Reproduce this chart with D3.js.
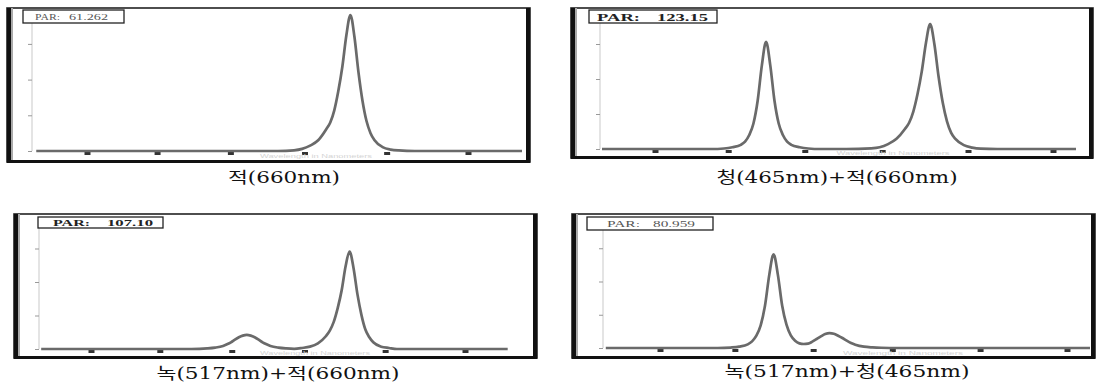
<!DOCTYPE html>
<html>
<head>
<meta charset="utf-8">
<script src="https://cdn.jsdelivr.net/npm/d3@7"></script>
<style>
  html, body { margin: 0; padding: 0; background: #fff; }
  svg { display: block; }
  .cap-latin { font-family: "DejaVu Serif", "Liberation Serif", serif; }
  .cap-hangul { font-family: "Noto Sans CJK KR", sans-serif; }
</style>
</head>
<body>
<svg id="svg"></svg>
<script>
// spectra: wavelength (nm) and relative irradiance
const wlRed = [270, 350, 450, 550, 570, 590, 600, 610, 620, 630, 635, 640, 645, 650, 655, 660, 665, 670, 675, 680, 685, 690, 700, 710, 720, 740, 800, 880];
const valRed = [0, 0, 0, 0, 0, 0.02, 0.06, 0.15, 0.30, 0.61, 0.80, 1.14, 1.68, 2.36, 3.24, 3.81, 3.20, 2.21, 1.41, 0.84, 0.50, 0.30, 0.11, 0.04, 0.015, 0, 0, 0];

const wlBlueRed = [270, 350, 400, 415, 425, 435, 440, 445, 450, 455, 460, 465, 470, 475, 480, 485, 490, 495, 505, 515, 530, 560, 590, 600, 610, 620, 630, 635, 640, 645, 650, 655, 660, 665, 670, 675, 680, 685, 690, 700, 710, 720, 740, 780, 840];
const valBlueRed = [0, 0, 0, 0.015, 0.05, 0.12, 0.21, 0.40, 0.73, 1.38, 2.39, 3.06, 2.39, 1.38, 0.73, 0.40, 0.21, 0.12, 0.05, 0.015, 0, 0, 0.02, 0.05, 0.14, 0.29, 0.57, 0.75, 1.07, 1.57, 2.21, 3.03, 3.57, 3.00, 2.07, 1.32, 0.79, 0.46, 0.29, 0.11, 0.04, 0.01, 0, 0, 0];

const wlGreenRed = [270, 350, 420, 450, 470, 480, 490, 500, 505, 510, 515, 520, 525, 530, 535, 540, 545, 550, 555, 560, 570, 580, 590, 600, 610, 620, 630, 635, 640, 645, 650, 655, 660, 665, 670, 675, 680, 685, 690, 700, 710, 720, 760, 860];
const valGreenRed = [0, 0, 0, 0, 0.006, 0.017, 0.04, 0.09, 0.14, 0.20, 0.28, 0.35, 0.40, 0.42, 0.40, 0.35, 0.28, 0.20, 0.14, 0.09, 0.04, 0.017, 0.006, 0.03, 0.07, 0.17, 0.38, 0.55, 0.81, 1.22, 1.75, 2.47, 2.91, 2.42, 1.63, 1.02, 0.58, 0.35, 0.20, 0.07, 0.03, 0, 0, 0];

const wlGreenBlue = [270, 350, 400, 415, 425, 435, 440, 445, 450, 455, 460, 465, 470, 475, 480, 485, 490, 495, 500, 505, 510, 515, 520, 525, 530, 535, 540, 545, 550, 555, 560, 570, 580, 590, 610, 700, 840];
const valGreenBlue = [0, 0, 0, 0.014, 0.04, 0.11, 0.20, 0.37, 0.68, 1.27, 2.20, 2.82, 2.20, 1.27, 0.70, 0.38, 0.22, 0.14, 0.12, 0.13, 0.19, 0.27, 0.35, 0.42, 0.45, 0.43, 0.37, 0.30, 0.22, 0.15, 0.10, 0.04, 0.018, 0.007, 0, 0, 0];

const captions = ["적(660nm)", "청(465nm)+적(660nm)", "녹(517nm)+적(660nm)", "녹(517nm)+청(465nm)"];
const parValues = ["61.262", "123.15", "107.10", "80.959"];
const xTickValues = [333, 420, 511, 603, 705, 806];
const yTickValues = [0, 1, 2, 3];

const width = 1098;
const height = 384;

// page layout of the four scanned panels
const panels = [
  { wl: wlRed, val: valRed, frame: [7, 8, 530, 162], xr: [87, 468], yr: [151, 8.2], axisX: 32, lineEnd: 522,
    box: [23, 10, 124, 23], parLab: [35, 25], parNum: [69, 39], parSize: 7.5, parBold: false, parFill: "#555", parY: 20,
    cap: [284, 183, 112], xLabel: [316, 158, 112] },
  { wl: wlBlueRed, val: valBlueRed, frame: [571, 8, 1093, 158], xr: [655, 1053], yr: [149, 9], axisX: 600, lineEnd: 1076,
    box: [589, 10, 717, 23], parLab: [597, 43], parNum: [657, 51], parSize: 10.5, parBold: true, parFill: "#222", parY: 21,
    cap: [837, 183, 241], xLabel: [893, 155, 113] },
  { wl: wlGreenRed, val: valGreenRed, frame: [14, 214, 537, 358], xr: [91, 465], yr: [349, 215], axisX: 39, lineEnd: 516,
    box: [38, 217, 163, 228], parLab: [53, 37], parNum: [107, 46], parSize: 9, parBold: true, parFill: "#222", parY: 226,
    cap: [278, 379, 243], xLabel: [315, 355, 110] },
  { wl: wlGreenBlue, val: valGreenBlue, frame: [572, 214, 1095, 358], xr: [660, 1067], yr: [348, 215], axisX: 603, lineEnd: 1090,
    box: [587, 217, 713, 230], parLab: [607, 33], parNum: [653, 42], parSize: 8, parBold: false, parFill: "#555", parY: 227,
    cap: [847, 377, 245], xLabel: [903, 355, 120] }
];

const svg = d3.select("#svg")
  .attr("width", width)
  .attr("height", height)
  .attr("viewBox", [0, 0, width, height]);

const defs = svg.append("defs");

panels.forEach((p, i) => {
  const [fx0, fy0, fx1, fy1] = p.frame;
  const g = svg.append("g");

  const x = d3.scaleLinear([xTickValues[0], xTickValues[xTickValues.length - 1]], p.xr);
  const y = d3.scaleLinear([0, 4], p.yr);

  // faint y axis line
  g.append("line")
    .attr("x1", p.axisX).attr("x2", p.axisX)
    .attr("y1", fy0 + 3).attr("y2", y(0))
    .attr("stroke", "#e4e4e4")
    .attr("stroke-width", 2);

  const yAxis = g.append("g")
    .attr("transform", "translate(" + p.axisX + ",0)")
    .call(d3.axisLeft(y).tickValues(yTickValues).tickSize(4).tickFormat(""));
  yAxis.select(".domain").remove();
  yAxis.selectAll("line").attr("stroke", "#999").attr("stroke-width", 1);

  const xAxis = g.append("g")
    .attr("transform", "translate(0," + (y(0) + 1) + ")")
    .call(d3.axisBottom(x).tickValues(xTickValues).tickSizeInner(3).tickSizeOuter(0).tickFormat(""));
  xAxis.select(".domain").remove();
  xAxis.selectAll("line").attr("stroke", "#333").attr("stroke-width", 6);

  // faint axis title under the baseline
  g.append("text")
    .attr("x", p.xLabel[0] - p.xLabel[2] / 2)
    .attr("y", p.xLabel[1])
    .attr("textLength", p.xLabel[2])
    .attr("lengthAdjust", "spacingAndGlyphs")
    .attr("font-family", "Liberation Sans, sans-serif")
    .attr("font-size", 6)
    .attr("fill", "#d4d4d4")
    .text("Wavelength in Nanometers");

  // spectrum
  defs.append("clipPath").attr("id", "clip" + i)
    .append("rect")
    .attr("x", p.axisX).attr("y", fy0)
    .attr("width", p.lineEnd - p.axisX).attr("height", fy1 - fy0);

  const points = p.wl.map((w, k) => [w, p.val[k]]);
  g.append("path")
    .datum(points)
    .attr("clip-path", "url(#clip" + i + ")")
    .attr("fill", "none")
    .attr("stroke", "#6a6a6a")
    .attr("stroke-width", 2.7)
    .attr("stroke-linejoin", "round")
    .attr("d", d3.line()
      .x(d => x(d[0]))
      .y(d => y(d[1]))
      .curve(d3.curveMonotoneX));

  // frame
  g.append("rect")
    .attr("x", fx0).attr("y", fy0)
    .attr("width", fx1 - fx0).attr("height", fy1 - fy0)
    .attr("fill", "none")
    .attr("stroke", "#222")
    .attr("stroke-width", 1.6);
  g.append("rect")
    .attr("x", fx0).attr("y", fy0)
    .attr("width", 4).attr("height", fy1 - fy0)
    .attr("fill", "#111");
  g.append("rect")
    .attr("x", fx0 + 4).attr("y", fy0)
    .attr("width", 2).attr("height", fy1 - fy0)
    .attr("fill", "#aaa");
  g.append("rect")
    .attr("x", fx1 - 4).attr("y", fy0)
    .attr("width", 4).attr("height", fy1 - fy0)
    .attr("fill", "#111");
  g.append("rect")
    .attr("x", fx0).attr("y", fy1 - 2)
    .attr("width", fx1 - fx0).attr("height", 3)
    .attr("fill", "#111");

  // PAR box
  g.append("rect")
    .attr("x", p.box[0]).attr("y", p.box[1])
    .attr("width", p.box[2] - p.box[0]).attr("height", p.box[3] - p.box[1])
    .attr("fill", "#fff")
    .attr("stroke", "#222")
    .attr("stroke-width", 1.3);
  [["PAR:", p.parLab], [parValues[i], p.parNum]].forEach(([t, pos]) => {
    g.append("text")
      .attr("x", pos[0])
      .attr("y", p.parY)
      .attr("textLength", pos[1])
      .attr("lengthAdjust", "spacingAndGlyphs")
      .attr("font-family", "Liberation Serif, serif")
      .attr("font-size", p.parSize)
      .attr("font-weight", p.parBold ? "bold" : "normal")
      .attr("fill", p.parFill)
      .text(t);
  });

  // caption: hangul in the CJK face, digits and brackets in a serif face
  const cap = g.append("text")
    .attr("x", p.cap[0] - p.cap[2] / 2)
    .attr("y", p.cap[1])
    .attr("textLength", p.cap[2])
    .attr("lengthAdjust", "spacingAndGlyphs")
    .attr("font-size", 16)
    .attr("fill", "#111");
  captions[i].split(/([\uAC00-\uD7A3]+)/).filter(s => s.length).forEach(s => {
    cap.append("tspan")
      .attr("class", /[\uAC00-\uD7A3]/.test(s) ? "cap-hangul" : "cap-latin")
      .text(s);
  });
});
</script>
</body>
</html>
